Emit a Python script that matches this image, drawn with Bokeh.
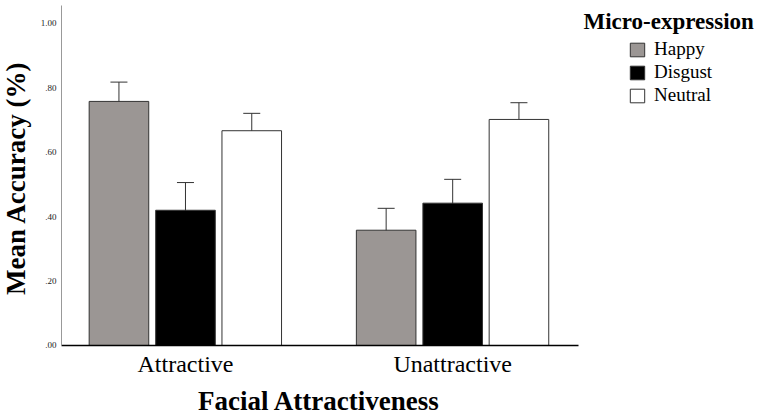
import math
from bokeh.plotting import figure
from bokeh.models import (ColumnDataSource, FixedTicker, Whisker, TeeHead, Legend,
                          LegendItem, Label, LabelSet, Range1d)
from bokeh.embed import file_html
from bokeh.resources import INLINE

categories = ["Attractive", "Unattractive"]
expressions = ["Happy", "Disgust", "Neutral"]
colors = ["#9b9694", "#000000", "#ffffff"]
means = {
    "Happy":   [0.758, 0.358],
    "Disgust": [0.420, 0.442],
    "Neutral": [0.667, 0.702],
}
lower = {
    "Happy":   [0.696, 0.294],
    "Disgust": [0.334, 0.368],
    "Neutral": [0.615, 0.650],
}
upper = {
    "Happy":   [0.818, 0.426],
    "Disgust": [0.506, 0.516],
    "Neutral": [0.721, 0.754],
}
offsets = [-0.249, 0.0, 0.248]
y_ticks = [0.0, 0.2, 0.4, 0.6, 0.8, 1.0]
y_tick_labels = [".00", ".20", ".40", ".60", ".80", "1.00"]

SERIF = "Liberation Serif"

X_AXIS = (-0.464, 1.472)      # extent of the category axis line
Y_AXIS_TOP = 1.056

p = figure(width=765, height=415, output_backend="svg", toolbar_location=None,
           x_range=Range1d(-0.6923, 2.1707), y_range=Range1d(-0.2174, 1.0714),
           min_border_left=0, min_border_right=0, min_border_top=0,
           min_border_bottom=0)
p.outline_line_color = None
p.xgrid.grid_line_color = None
p.ygrid.grid_line_color = None
p.background_fill_color = "white"

items = []
for name, col, off in zip(expressions, colors, offsets):
    xs = [i + off for i in range(len(categories))]
    src = ColumnDataSource(dict(x=xs, top=means[name], lo=lower[name], hi=upper[name]))
    r = p.vbar(x="x", top="top", width=0.223, source=src, fill_color=col,
               line_color="#333333", line_width=1)
    items.append(LegendItem(label=name, renderers=[r]))
    w = Whisker(base="x", lower="lo", upper="hi", source=src, line_color="#333333",
                line_width=1,
                upper_head=TeeHead(size=17, line_color="#333333", line_width=1),
                lower_head=TeeHead(size=17, line_color="#333333", line_width=1))
    p.add_layout(w)

# axes: lines drawn by the axes themselves, at fixed locations inside the frame
for ax in (p.xaxis[0], p.yaxis[0]):
    ax.ticker = FixedTicker(ticks=[])
    ax.major_tick_out = 0
    ax.major_tick_in = 0
    ax.minor_tick_out = 0
    ax.minor_tick_in = 0
    ax.major_tick_line_color = None
    ax.minor_tick_line_color = None
    ax.major_label_standoff = 0

p.xaxis.fixed_location = 0
p.xaxis.bounds = X_AXIS
p.xaxis.axis_line_color = "black"
p.xaxis.axis_line_width = 1.5

p.yaxis.fixed_location = X_AXIS[0]
p.yaxis.bounds = (0, Y_AXIS_TOP)
p.yaxis.axis_line_color = "#999999"
p.yaxis.axis_line_width = 1

# y tick labels
ytick_src = ColumnDataSource(dict(x=[X_AXIS[0]] * len(y_ticks), y=y_ticks,
                                  text=y_tick_labels))
p.add_layout(LabelSet(x="x", y="y", text="text", source=ytick_src, x_offset=-5,
                      text_align="right", text_baseline="middle",
                      text_font="Liberation Sans", text_font_size="9px",
                      text_color="#222222"))

# category labels
cat_src = ColumnDataSource(dict(x=list(range(len(categories))),
                                y=[-0.083] * len(categories), text=categories))
p.add_layout(LabelSet(x="x", y="y", text="text", source=cat_src,
                      text_align="center", text_baseline="alphabetic",
                      text_font=SERIF, text_font_size="24px", text_color="black"))

# axis titles
p.add_layout(Label(x=(len(categories) - 1) / 2, y=-0.172,
                   text="Facial Attractiveness", text_align="center",
                   text_baseline="alphabetic", text_font=SERIF,
                   text_font_style="bold", text_font_size="27px", text_color="black"))
p.add_layout(Label(x=15.5, y=0.52, x_units="screen", y_units="data",
                   text="Mean Accuracy (%)", angle=math.pi / 2,
                   text_align="center", text_baseline="middle", text_font=SERIF,
                   text_font_style="bold", text_font_size="27px", text_color="black"))

legend = Legend(items=items, location=(628, 309), padding=0, margin=0,
                spacing=1, glyph_width=18, glyph_height=17, label_height=22,
                label_standoff=8, label_text_font=SERIF, label_text_font_size="19px",
                label_text_color="black", background_fill_alpha=0,
                border_line_color=None)
p.add_layout(legend, "center")

p.add_layout(Label(x=583, y=394, x_units="screen", y_units="screen",
                   text="Micro-expression", text_font=SERIF, text_font_style="bold",
                   text_font_size="23px", text_color="black",
                   text_baseline="alphabetic"))

open("out.html", "w").write(file_html(p, INLINE))
